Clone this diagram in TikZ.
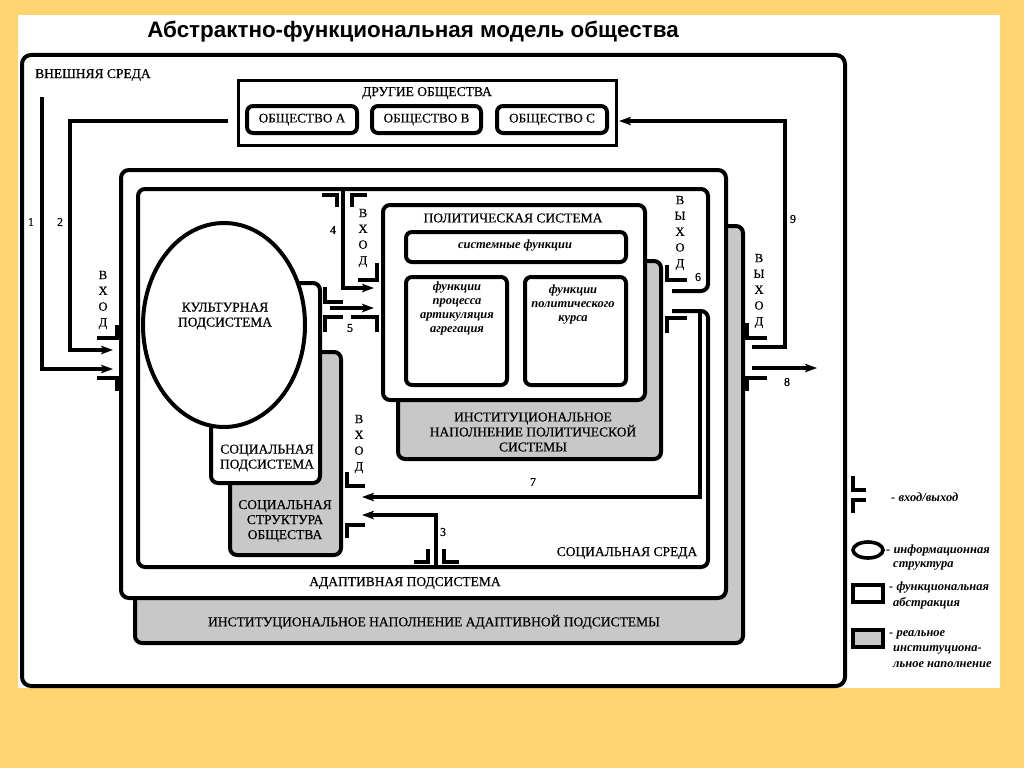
\documentclass[tikz,border=0pt]{standalone}
\usepackage{fontspec}
\setmainfont{Liberation Serif}
\newfontfamily\lblfont{Liberation Serif}[FakeBold=0.5]
\newfontfamily\titlefont{Liberation Sans}
\usetikzlibrary{arrows.meta,shapes.geometric}
\definecolor{bgor}{RGB}{255,211,112}
\definecolor{instgray}{RGB}{200,200,200}
\begin{document}
\begin{tikzpicture}[x=1pt,y=-1pt,
  box/.style={draw, line width=4pt, rounded corners=7pt, inner sep=0pt, fill=white},
  graybox/.style={box, fill=instgray},
  thinbox/.style={draw, line width=3pt, inner sep=0pt, fill=white},
  gate/.style={line width=4pt},
  conn/.style={line width=4pt, -{Stealth[length=12pt,width=8.5pt,inset=3pt]}},
  lbl/.style={inner sep=0pt, font=\lblfont\fontsize{13.5}{15}\selectfont, align=center},
  num/.style={inner sep=0pt, font=\lblfont\fontsize{12}{14}\selectfont},
  vtext/.style={inner sep=0pt, font=\lblfont\fontsize{12.5}{15.8}\selectfont, align=center},
  ital/.style={inner sep=0pt, font=\fontsize{12.5}{14}\selectfont\bfseries\itshape, align=center},
  leg/.style={inner sep=0pt, anchor=west, font=\fontsize{12.5}{13}\selectfont\bfseries\itshape}
]
\useasboundingbox (0,0) rectangle (1024,768);
% background
\fill[bgor] (0,0) rectangle (1024,768);
\fill[white] (18,15) rectangle (1000,688);
% title
\node[inner sep=0pt, font=\titlefont\bfseries\fontsize{22.4}{26}\selectfont] (title) at (413,32) {Абстрактно-функциональная модель общества};

% outer box (external environment)
\node[draw, line width=4pt, rounded corners=9pt, inner sep=0pt, minimum width=823pt, minimum height=631pt] (outer) at (433.5,370.5) {};
\node[lbl, anchor=west] (extenv) at (35,75) {ВНЕШНЯЯ СРЕДА};

% other societies
\node[thinbox, minimum width=378pt, minimum height=65pt] (others) at (427,112.5) {};
\node[lbl] (otherslbl) at (427,93) {ДРУГИЕ ОБЩЕСТВА};
\node[box, rounded corners=6pt, minimum width=110pt, minimum height=27pt, font=\lblfont\fontsize{13.2}{14}\selectfont] (socA) at (302,119.5) {ОБЩЕСТВО А};
\node[box, rounded corners=6pt, minimum width=109pt, minimum height=27pt, font=\lblfont\fontsize{13.2}{14}\selectfont] (socB) at (426.5,119.5) {ОБЩЕСТВО В};
\node[box, rounded corners=6pt, minimum width=110pt, minimum height=27pt, font=\lblfont\fontsize{13.2}{14}\selectfont] (socC) at (552,119.5) {ОБЩЕСТВО С};

% adaptive subsystem
\node[graybox, minimum width=608pt, minimum height=417pt] (adgray) at (439,434.5) {};
\node[box, rounded corners=8pt, minimum width=605pt, minimum height=428pt] (adapt) at (423.5,384) {};
\node[lbl] (adlbl) at (405,583) {АДАПТИВНАЯ ПОДСИСТЕМА};
\node[lbl] (adgraylbl) at (434,622) {ИНСТИТУЦИОНАЛЬНОЕ НАПОЛНЕНИЕ АДАПТИВНОЙ ПОДСИСТЕМЫ};

% social environment (outline with output gap)
\draw[line width=4pt, rounded corners=7pt] (672,291) -- (708,291) -- (708,189) -- (138,189) -- (138,567) -- (708,567) -- (708,311) -- (672,311);
\node[lbl] (soclbl) at (627,553) {СОЦИАЛЬНАЯ СРЕДА};

% political system
\node[graybox, minimum width=263pt, minimum height=198pt] (polgray) at (529.5,360) {};
\node[box, minimum width=262pt, minimum height=195pt] (pol) at (514,302.5) {};
\node[lbl] (pollbl) at (513,218) {ПОЛИТИЧЕСКАЯ СИСТЕМА};
\node[box, rounded corners=6pt, minimum width=220pt, minimum height=30pt] (sysf) at (516,247) {};
\node[ital] (sysflbl) at (515,246) {системные функции};
\node[box, rounded corners=6pt, minimum width=101pt, minimum height=108pt] (procf) at (456.5,331) {};
\node[box, rounded corners=6pt, minimum width=101pt, minimum height=108pt] (kursf) at (575.5,331) {};
\node[ital] (procflbl) at (457,308) {функции\\процесса\\артикуляция\\агрегация};
\node[ital] (kursflbl) at (573,305) {функции\\политического\\курса};
\node[lbl] (polgraylbl) at (533,432) {ИНСТИТУЦИОНАЛЬНОЕ\\НАПОЛНЕНИЕ ПОЛИТИЧЕСКОЙ\\СИСТЕМЫ};

% social subsystem and structure
\node[graybox, minimum width=111pt, minimum height=203pt] (sstruct) at (285.5,453.5) {};
\node[box, minimum width=109pt, minimum height=200pt] (ssub) at (265.5,383) {};
\node[draw, ellipse, line width=4pt, fill=white, minimum width=162pt, minimum height=204pt, inner sep=0pt] (cult) at (224,325) {};
\node[lbl] (cultlbl) at (225,316) {КУЛЬТУРНАЯ\\ПОДСИСТЕМА};
\node[lbl] (ssublbl) at (267,458) {СОЦИАЛЬНАЯ\\ПОДСИСТЕМА};
\node[lbl] (sstructlbl) at (285,521) {СОЦИАЛЬНАЯ\\СТРУКТУРА\\ОБЩЕСТВА};

% gates
\draw[gate] (97,338) -- (117,338) -- (117,325);
\draw[gate] (97,378) -- (117,378) -- (117,391);
\draw[gate] (322,195) -- (337,195) -- (337,207);
\draw[gate] (367,195) -- (352,195) -- (352,207);
\draw[gate] (358,280) -- (377,280) -- (377,263);
\draw[gate] (351,317) -- (377,317) -- (377,332);
\draw[gate] (325,287) -- (325,302) -- (343,302);
\draw[gate] (325,332) -- (325,317) -- (343,317);
\draw[gate] (667,265) -- (667,280) -- (687,280);
\draw[gate] (667,333) -- (667,318) -- (687,318);
\draw[gate] (347,472) -- (347,486) -- (365,486);
\draw[gate] (347,538) -- (347,525) -- (365,525);
\draw[gate] (414,562) -- (428,562) -- (428,549);
\draw[gate] (444,549) -- (444,562) -- (459,562);
\draw[gate] (747,323) -- (747,338) -- (767,338);
\draw[gate] (747,391) -- (747,378) -- (767,378);

% gate texts
\node[vtext] (in1) at (103,300) {В\\Х\\О\\Д};
\node[vtext] (in4) at (363,238) {В\\Х\\О\\Д};
\node[vtext] (out6) at (680,233) {В\\Ы\\Х\\О\\Д};
\node[vtext] (out8) at (759,291) {В\\Ы\\Х\\О\\Д};
\node[vtext] (in7) at (359,444) {В\\Х\\О\\Д};

% connectors
\coordinate (a1s) at (42,97);   \coordinate (a1e) at (113,369);
\coordinate (a2s) at (228,121); \coordinate (a2c) at (70,121); \coordinate (a2e) at (113,350);
\coordinate (a4s) at (343,189); \coordinate (a4e) at (374,288);
\coordinate (a5s) at (330,308); \coordinate (a5e) at (374,308);
\coordinate (a7s) at (672,311); \coordinate (a7c) at (700,497); \coordinate (a7e) at (362,497);
\coordinate (a3s) at (436,567); \coordinate (a3e) at (362,515);
\coordinate (a9s) at (752,347); \coordinate (a9c) at (785,347); \coordinate (a9e) at (619,121);
\coordinate (a8s) at (752,368); \coordinate (a8e) at (817,368);
\draw[conn] (a1s) |- (a1e);
\draw[conn] (a2s) -- (a2c) |- (a2e);
\draw[conn] (a4s) |- (a4e);
\draw[conn] (a5s) -- (a5e);
\draw[conn] (a7s) -| (a7c) -- (a7e);
\draw[conn] (a3s) |- (a3e);
\draw[conn] (a9s) -- (a9c) |- (a9e);
\draw[conn] (a8s) -- (a8e);

% numbers
\node[num] (n1) at (31,222) {1};
\node[num] (n2) at (60,222) {2};
\node[num] (n4) at (333,230) {4};
\node[num] (n5) at (350,328) {5};
\node[num] (n6) at (698,277) {6};
\node[num] (n7) at (533,482) {7};
\node[num] (n3) at (443,532) {3};
\node[num] (n9) at (793,219) {9};
\node[num] (n8) at (787,382) {8};

% legend
\draw[gate] (853,476) -- (853,490) -- (866,490);
\draw[gate] (853,513) -- (853,500) -- (866,500);
\node[leg] (lg1) at (891,497) {- вход/выход};
\node[draw, ellipse, line width=3.6pt, minimum width=30pt, minimum height=16pt, inner sep=0pt] (lge) at (868,550) {};
\node[leg] (lg2) at (886,550) {- информационная};
\node[leg] (lg2b) at (893,566) {структура};
\node[draw, line width=3.6pt, minimum width=30pt, minimum height=17pt, inner sep=0pt] (lgr) at (868,593.5) {};
\node[leg] (lg3) at (889,588) {- функциональная};
\node[leg] (lg3b) at (893,603) {абстракция};
\node[draw, line width=3.6pt, fill=instgray, minimum width=30pt, minimum height=17pt, inner sep=0pt] (lgg) at (868,638.5) {};
\node[leg] (lg4) at (889,635) {- реальное};
\node[leg] (lg4b) at (893,650) {институциона-};
\node[leg] (lg4c) at (893,665) {льное наполнение};
\end{tikzpicture}
\end{document}
